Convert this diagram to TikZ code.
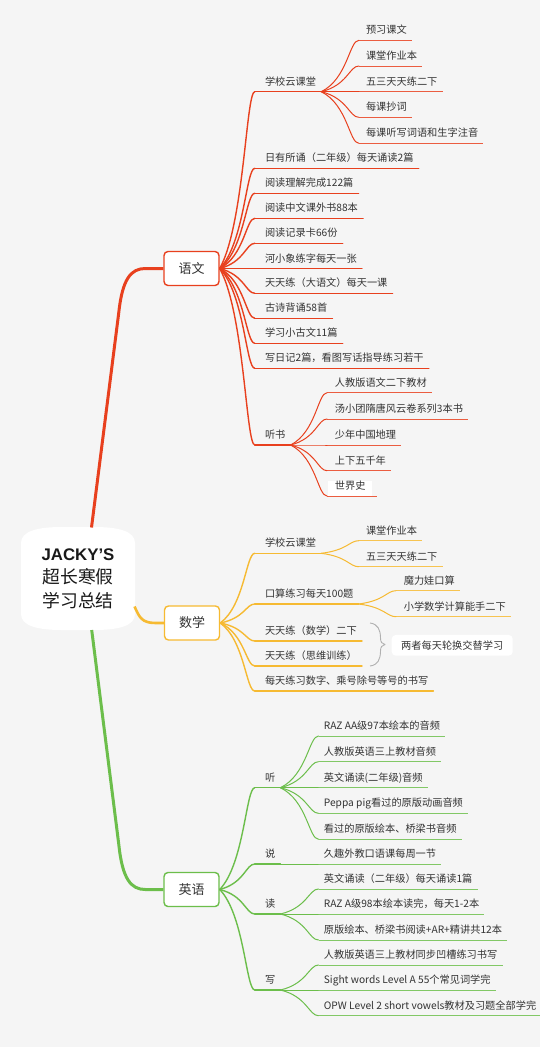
\documentclass[tikz,border=0pt]{standalone}
\usepackage{fontspec}
\setmainfont{Noto Sans CJK SC}
\newfontfamily\lsans{Liberation Sans}
\usetikzlibrary{calc}
\definecolor{bg}{HTML}{F5F5F5}
\definecolor{cr}{HTML}{E8401E}
\definecolor{co}{HTML}{F6BA32}
\definecolor{cg}{HTML}{6CBE4B}
\definecolor{tx}{HTML}{333333}
\definecolor{brk}{HTML}{B0B0B0}
\newcommand\mmconn[3]{\draw[#3] let \p1=(#1), \p2=(#2) in (\p1) .. controls ({\x1+0.7*(\x2-\x1)},{\y1+0.25*(\y2-\y1)}) and ({\x1+0.75*(\x2-\x1)},{\y2}) .. (\p2);}
\newcommand\mmtrunk[3]{\draw[#3] let \p1=(#1), \p2=(#2) in (\p1) -- ({\x1+0.38*(\x2-\x1)},{\y1+0.83*(\y2-\y1)}) .. controls ({\x1+0.43*(\x2-\x1)},{\y1+0.96*(\y2-\y1)}) and ({\x1+0.55*(\x2-\x1)},{\y2}) .. ({\x1+0.75*(\x2-\x1)},{\y2}) -- (\p2);}
\newcommand\mmitem[7][]{%
  \coordinate (#2) at (#3,#4);
  \node[itm,anchor=base west,#1] (#2t) at ($(#2)+(#5,-6.5)$) {#7};
  \coordinate (#2e) at ($(#2 -| #2t.east)+(5,0)$);
  \draw[#6] (#2) -- (#2e);
}
\begin{document}
\begin{tikzpicture}[x=1pt,y=-1pt,line join=round,
  itm/.style={inner sep=0pt,font=\fontsize{10.2}{12}\selectfont,text=tx},
  mbox/.style={fill=white,rounded corners=4pt,line width=1.4pt,minimum width=55pt,minimum height=34pt,inner sep=0pt,font=\fontsize{13}{15}\selectfont,text=tx},
  rl/.style={draw=cr,line width=1.4pt,line cap=round},
  r3/.style={draw=cr,line width=1pt,line cap=round},
  ru/.style={draw=cr!85,line width=0.9pt},
  ol/.style={draw=co,line width=1.4pt,line cap=round},
  o3/.style={draw=co,line width=1pt,line cap=round},
  ou/.style={draw=co!85,line width=0.9pt},
  gl/.style={draw=cg,line width=1.4pt,line cap=round},
  g3/.style={draw=cg,line width=1pt,line cap=round},
  gu/.style={draw=cg!85,line width=0.9pt},
  trunkR/.style={draw=cr,line width=3pt},
  trunkO/.style={draw=co,line width=2.6pt},
  trunkG/.style={draw=cg,line width=3pt}]
\fill[bg] (0,0) rectangle (540,1047);
\useasboundingbox (0,0) rectangle (540,1047);

% root
\fill[white] (21,543) .. controls (21,531) and (38,527) .. (62,527) -- (94,527) .. controls (118,527) and (135,531) .. (135,543) -- (135,614) .. controls (135,626) and (118,630) .. (94,630) -- (62,630) .. controls (38,630) and (21,626) .. (21,614) -- cycle;
\node[inner sep=0pt,minimum width=114pt,minimum height=103pt,align=center,text=black!90,font=\fontsize{17.8}{23.5}\selectfont] (root) at (78,578.5) {{\lsans\bfseries\fontsize{16.8}{23.5}\selectfont JACKY’S}\\超长寒假\\学习总结};
\coordinate (rN) at (91.5,527.5);
\coordinate (rS) at (91.7,630);
\coordinate (rE) at (134.5,606.5);

% main boxes
\node[mbox,draw=cr] (yw) at (191.5,268.5) {语文};
\node[mbox,draw=co] (sx) at (192,623) {数学};
\node[mbox,draw=cg] (yy) at (191.5,889.5) {英语};

\mmtrunk{rN}{yw.west}{trunkR}
\mmtrunk{rS}{yy.west}{trunkG}
\draw[trunkO] (rE) .. controls ($(rE)+(5,11)$) and ($(sx.west)+(-22,0)$) .. ($(sx.west)+(-8,0)$) -- (sx.west);

% ===== 语文 =====
\mmitem{a1}{254.8}{91.7}{10}{rl}{学校云课堂}
\mmitem{a2}{254.8}{168.3}{10}{rl}{日有所诵（二年级）每天诵读2篇}
\mmitem{a3}{254.8}{193.3}{10}{rl}{阅读理解完成122篇}
\mmitem{a4}{254.8}{218.3}{10}{rl}{阅读中文课外书88本}
\mmitem{a5}{254.8}{243.3}{10}{rl}{阅读记录卡66份}
\mmitem{a6}{254.8}{268.5}{10}{rl}{河小象练字每天一张}
\mmitem{a7}{254.8}{293.3}{10}{rl}{天天练（大语文）每天一课}
\mmitem{a8}{254.8}{318.3}{10}{rl}{古诗背诵58首}
\mmitem{a9}{254.8}{343.3}{10}{rl}{学习小古文11篇}
\mmitem{a10}{254.8}{368.3}{10}{rl}{写日记2篇，看图写话指导练习若干}
\mmitem{a11}{254.8}{445}{10}{rl}{听书}
\foreach \itnm in {a1,a2,a3,a4,a5,a6,a7,a8,a9,a10,a11}{\mmconn{yw.east}{\itnm}{rl}}

\mmitem{b1}{358.8}{40.3}{7}{ru}{预习课文}
\mmitem{b2}{358.8}{66}{7}{ru}{课堂作业本}
\mmitem{b3}{358.8}{91.7}{7}{ru}{五三天天练二下}
\mmitem{b4}{358.8}{117.3}{7}{ru}{每课抄词}
\mmitem{b5}{358.8}{143.3}{7}{ru}{每课听写词语和生字注音}
\foreach \itnm in {b1,b2,b3,b4,b5}{\mmconn{a1e}{\itnm}{r3}}

\mmitem{c1}{327}{392.7}{7.7}{ru}{人教版语文二下教材}
\mmitem{c2}{327}{419}{7.7}{ru}{汤小团隋唐风云卷系列3本书}
\mmitem{c3}{327}{445}{7.7}{ru}{少年中国地理}
\mmitem{c4}{327}{470.7}{7.7}{ru}{上下五千年}
\mmitem[fill=white,inner xsep=6.5pt,text height=8.5pt,text depth=6pt]{c5}{327}{496}{1.2}{ru}{世界史}
\foreach \itnm in {c1,c2,c3,c4,c5}{\mmconn{a11e}{\itnm}{r3}}

% ===== 数学 =====
\mmitem{d1}{254.8}{553.3}{10}{ol}{学校云课堂}
\mmitem{d2}{254.8}{604}{10}{ol}{口算练习每天100题}
\mmitem{d3}{254.8}{641}{10}{ol}{天天练（数学）二下}
\mmitem{d4}{254.8}{666}{10}{ol}{天天练（思维训练）}
\mmitem{d5}{254.8}{691}{10}{ol}{每天练习数字、乘号除号等号的书写}
\foreach \itnm in {d1,d2,d3,d4,d5}{\mmconn{sx.east}{\itnm}{ol}}

\mmitem{e1}{358.8}{540.7}{7}{ou}{课堂作业本}
\mmitem{e2}{358.8}{566.7}{7}{ou}{五三天天练二下}
\foreach \itnm in {e1,e2}{\mmconn{d1e}{\itnm}{o3}}
\mmitem{e3}{396}{590.7}{7.6}{ou}{魔力娃口算}
\mmitem{e4}{396}{616.7}{7.6}{ou}{小学数学计算能手二下}
\foreach \itnm in {e3,e4}{\mmconn{d2e}{\itnm}{o3}}

% summary bracket
\coordinate (brT) at (370,623);
\coordinate (brB) at (370,666);
\coordinate (brM) at (385,644.5);
\draw[brk,line width=0.9pt] (brT) .. controls (378,624) and (380.5,630) .. (380.5,638) .. controls (380.5,642) and (382,644) .. (brM) .. controls (382,645) and (380.5,647) .. (380.5,651) .. controls (380.5,659) and (378,665) .. (brB);
\node[fill=white,rounded corners=4pt,minimum width=121pt,minimum height=20.7pt,inner sep=0pt,font=\fontsize{10.2}{12}\selectfont,text=tx] (sum) at (452.2,645.3) {两者每天轮换交替学习};

% ===== 英语 =====
\mmitem{f1}{254.8}{787.7}{10}{gl}{听}
\mmitem{f2}{254.8}{864}{10}{gl}{说}
\mmitem{f3}{254.8}{914}{10}{gl}{读}
\mmitem{f4}{254.8}{990}{10}{gl}{写}
\foreach \itnm in {f1,f2,f3,f4}{\mmconn{yy.east}{\itnm}{gl}}

\mmitem{g1}{318.5}{736}{5.2}{gu}{RAZ AA级97本绘本的音频}
\mmitem{g2}{318.5}{761.7}{5.2}{gu}{人教版英语三上教材音频}
\mmitem{g3}{318.5}{787.7}{5.2}{gu}{英文诵读(二年级)音频}
\mmitem{g4}{318.5}{813.3}{5.2}{gu}{Peppa pig看过的原版动画音频}
\mmitem{g5}{318.5}{839.3}{5.2}{gu}{看过的原版绘本、桥梁书音频}
\foreach \itnm in {g1,g2,g3,g4,g5}{\mmconn{f1e}{\itnm}{g3}}
\mmitem{g6}{318.5}{864}{5.2}{gu}{久趣外教口语课每周一节}
\mmconn{f2e}{g6}{g3}
\mmitem{g7}{318.5}{889}{5.2}{gu}{英文诵读（二年级）每天诵读1篇}
\mmitem{g8}{318.5}{914}{5.2}{gu}{RAZ A级98本绘本读完，每天1-2本}
\mmitem{g9}{318.5}{940}{5.2}{gu}{原版绘本、桥梁书阅读+AR+精讲共12本}
\foreach \itnm in {g7,g8,g9}{\mmconn{f3e}{\itnm}{g3}}
\mmitem{g10}{318.5}{965}{5.2}{gu}{人教版英语三上教材同步凹槽练习书写}
\mmitem{g11}{318.5}{990}{5.2}{gu}{Sight words Level A 55个常见词学完}
\mmitem{g12}{318.5}{1015.7}{5.2}{gu}{OPW Level 2 short vowels教材及习题全部学完}
\foreach \itnm in {g10,g11,g12}{\mmconn{f4e}{\itnm}{g3}}
\end{tikzpicture}
\end{document}
